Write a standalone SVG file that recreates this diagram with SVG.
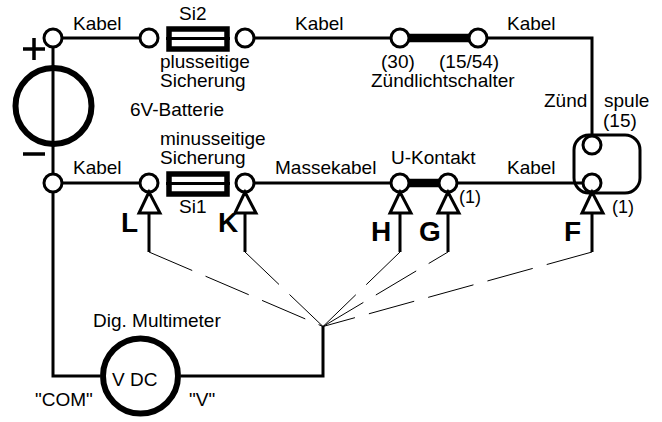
<svg xmlns="http://www.w3.org/2000/svg" width="662" height="422" viewBox="0 0 662 422">
<style>
text{font-family:"Liberation Sans",Arial,sans-serif;font-size:19px;fill:#000}
.s{font-size:18px}
.b{font-weight:bold;font-size:28px}
.w{fill:none;stroke:#000;stroke-width:3}
.t{fill:none;stroke:#000;stroke-width:8.5}
.d{fill:none;stroke:#000;stroke-width:1;stroke-dasharray:47 14.500}
.c{fill:#fff;stroke:#000;stroke-width:3}
.a{fill:#fff;stroke:#000;stroke-width:3;stroke-linejoin:miter}
.f{fill:none;stroke:#000;stroke-width:5.5}
.n{fill:none;stroke:#000;stroke-width:6}
</style>
<g id="connectors">
<path class="w" d="M53 38H149M245 38H400M478 38H592V145M53 38V376H100M53 183H149M245 183H400M448 183H592M181 376H323V326"/>
<path class="w" d="M149 210V252M245 210V252M400 210V252M448 210V252M592 210V252"/>
<path class="t" d="M404 38H474M404 183H444"/>
<path class="d" d="M149 252L323 326.500M245 252L323 326.500M400 252L323 326.500M323 326.500L448 252M592 252L323 326.500"/>
<path class="w" d="M166 38.500H230M166 183.500H230"/>
</g>
<g id="spule"><rect x="574" y="135" width="66" height="58" rx="15" fill="none" stroke="#000" stroke-width="3"/>
<text x="544" y="107">Zünd</text><text x="604" y="107">spule</text><text x="603" y="127">(15)</text><text class="s" x="612" y="213">(1)</text><text class="s" x="459" y="203">(1)</text>
<circle class="c" cx="592" cy="145" r="9"/><circle class="c" cx="592" cy="183" r="9"/></g>
<g id="batterie"><circle class="n" cx="53.500" cy="106" r="38"/>
<path d="M23 49H45M34 38V60M23 154H45" fill="none" stroke="#000" stroke-width="3.500"/>
<text x="130" y="116">6V-Batterie</text>
<circle class="c" cx="53" cy="38" r="9"/><circle class="c" cx="53" cy="183" r="9"/></g>
<g id="si2"><rect class="f" x="169" y="29" width="58" height="20"/>
<circle class="c" cx="149" cy="38" r="9"/><circle class="c" cx="245" cy="38" r="9"/>
<text x="179" y="20">Si2</text><text x="160" y="68">plusseitige</text><text x="160" y="87">Sicherung</text></g>
<g id="si1"><rect class="f" x="169" y="174" width="58" height="20"/>
<circle class="c" cx="149" cy="183" r="9"/><circle class="c" cx="245" cy="183" r="9"/>
<text x="160" y="145">minusseitige</text><text x="160" y="164">Sicherung</text><text x="179" y="213">Si1</text></g>
<g id="schalter"><circle class="c" cx="400" cy="38" r="9"/><circle class="c" cx="478" cy="38" r="9"/>
<text x="381" y="68">(30)</text><text x="439" y="68">(15/54)</text><text x="371" y="87">Zündlichtschalter</text></g>
<g id="ukontakt"><circle class="c" cx="400" cy="183" r="9"/><circle class="c" cx="448" cy="183" r="9"/><text x="391" y="164">U-Kontakt</text></g>
<g id="kabel"><text x="73" y="30">Kabel</text><text x="295" y="30">Kabel</text><text x="507" y="30">Kabel</text><text x="73" y="174">Kabel</text><text x="275" y="174">Massekabel</text><text x="507" y="174">Kabel</text></g>
<g id="probes">
<path class="a" d="M149 192L139 213H160ZM245 192L235 213H256ZM400 192L390 213H411ZM448 192L438 213H459ZM592 192L582 213H603Z"/>
<text class="b" x="121" y="232">L</text><text class="b" x="218" y="232">K</text><text class="b" x="371" y="241">H</text><text class="b" x="419" y="241">G</text><text class="b" x="564" y="241">F</text>
</g>
<g id="multimeter"><circle cx="140.500" cy="376" r="37.500" fill="#fff" stroke="#000" stroke-width="6"/>
<text x="112" y="386">V DC</text><text x="93" y="327">Dig. Multimeter</text><text x="35" y="406">"COM"</text><text x="189" y="406">"V"</text></g>
</svg>
